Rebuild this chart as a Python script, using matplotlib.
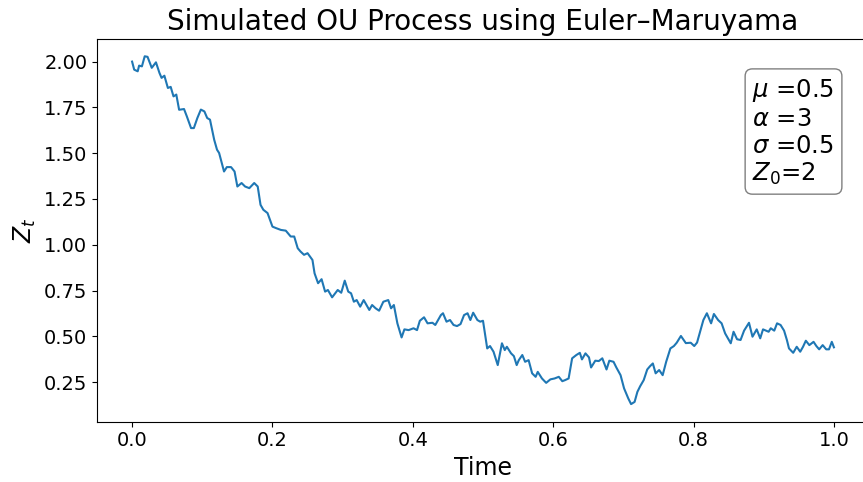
import matplotlib.pyplot as plt

# path
t = [0.000, 0.003, 0.008, 0.010, 0.014, 0.018, 0.022, 0.028, 0.034, 0.039,
     0.042, 0.046, 0.051, 0.055, 0.059, 0.063, 0.067, 0.074, 0.078, 0.084,
     0.088, 0.093, 0.098, 0.103, 0.107, 0.111, 0.117, 0.121, 0.124, 0.131,
     0.135, 0.141, 0.146, 0.150, 0.156, 0.161, 0.167, 0.174, 0.179, 0.183,
     0.187, 0.193, 0.200, 0.205, 0.212, 0.219, 0.226, 0.231, 0.236, 0.240,
     0.245, 0.250, 0.257, 0.260, 0.265, 0.270, 0.275, 0.279, 0.285, 0.293,
     0.298, 0.303, 0.308, 0.312, 0.316, 0.320, 0.325, 0.330, 0.338, 0.342,
     0.347, 0.352, 0.358, 0.365, 0.369, 0.373, 0.378, 0.384, 0.388, 0.394,
     0.401, 0.406, 0.410, 0.416, 0.421, 0.428, 0.432, 0.440, 0.443, 0.448,
     0.453, 0.458, 0.463, 0.468, 0.473, 0.478, 0.482, 0.486, 0.492, 0.496,
     0.500, 0.506, 0.510, 0.515, 0.521, 0.527, 0.531, 0.534, 0.540, 0.544,
     0.548, 0.551, 0.556, 0.560, 0.565, 0.570, 0.575, 0.578, 0.584, 0.590,
     0.596, 0.602, 0.608, 0.613, 0.617, 0.622, 0.627, 0.633, 0.638, 0.641,
     0.646, 0.651, 0.654, 0.660, 0.665, 0.670, 0.676, 0.680, 0.686, 0.690,
     0.696, 0.701, 0.707, 0.711, 0.716, 0.720, 0.724, 0.729, 0.734, 0.738,
     0.742, 0.746, 0.751, 0.756, 0.761, 0.767, 0.772, 0.776, 0.782, 0.789,
     0.796, 0.801, 0.805, 0.809, 0.814, 0.819, 0.825, 0.829, 0.835, 0.840,
     0.845, 0.853, 0.857, 0.862, 0.867, 0.872, 0.879, 0.884, 0.890, 0.895,
     0.899, 0.907, 0.910, 0.915, 0.919, 0.924, 0.929, 0.933, 0.936, 0.942,
     0.947, 0.952, 0.956, 0.960, 0.965, 0.971, 0.975, 0.979, 0.984, 0.989,
     0.993, 0.997, 1.000]
z = [2.000, 1.956, 1.947, 1.978, 1.974, 2.029, 2.026, 1.966, 1.996, 1.938,
     1.911, 1.923, 1.856, 1.862, 1.810, 1.820, 1.737, 1.741, 1.701, 1.637,
     1.637, 1.692, 1.738, 1.728, 1.692, 1.683, 1.573, 1.519, 1.501, 1.400,
     1.424, 1.424, 1.400, 1.318, 1.337, 1.318, 1.309, 1.337, 1.318, 1.218,
     1.191, 1.173, 1.099, 1.091, 1.081, 1.077, 1.045, 1.045, 0.981, 0.963,
     0.945, 0.954, 0.917, 0.844, 0.790, 0.812, 0.744, 0.753, 0.713, 0.753,
     0.738, 0.804, 0.744, 0.735, 0.689, 0.698, 0.662, 0.698, 0.644, 0.671,
     0.653, 0.640, 0.689, 0.698, 0.653, 0.671, 0.571, 0.494, 0.538, 0.534,
     0.544, 0.534, 0.585, 0.604, 0.571, 0.574, 0.562, 0.616, 0.626, 0.580,
     0.589, 0.562, 0.556, 0.567, 0.616, 0.626, 0.589, 0.629, 0.589, 0.580,
     0.585, 0.434, 0.447, 0.416, 0.343, 0.462, 0.425, 0.443, 0.407, 0.392,
     0.343, 0.370, 0.398, 0.361, 0.370, 0.298, 0.279, 0.306, 0.270, 0.246,
     0.265, 0.270, 0.279, 0.255, 0.261, 0.270, 0.380, 0.398, 0.410, 0.374,
     0.407, 0.385, 0.330, 0.367, 0.365, 0.380, 0.319, 0.367, 0.361, 0.330,
     0.288, 0.216, 0.161, 0.130, 0.142, 0.197, 0.228, 0.261, 0.319, 0.337,
     0.352, 0.298, 0.316, 0.288, 0.361, 0.434, 0.447, 0.465, 0.502, 0.463,
     0.465, 0.447, 0.466, 0.520, 0.589, 0.626, 0.571, 0.622, 0.589, 0.571,
     0.516, 0.462, 0.525, 0.484, 0.480, 0.531, 0.574, 0.498, 0.538, 0.489,
     0.538, 0.525, 0.544, 0.531, 0.571, 0.562, 0.531, 0.480, 0.434, 0.410,
     0.443, 0.416, 0.443, 0.476, 0.452, 0.470, 0.447, 0.429, 0.452, 0.429,
     0.429, 0.470, 0.440]

params = '$\\mu$ =0.5\n$\\alpha$ =3\n$\\sigma$ =0.5\n$Z_0$=2'

fig = plt.figure(figsize=(8.63, 4.82), dpi=100)
ax = fig.add_axes([97 / 863, 60.5 / 482, 772 / 863, 382.8 / 482])
ax.plot(t, z, color='tab:blue', linewidth=1.5)
ax.set_xlim(-0.05, 1.05)
ax.set_ylim(0.035, 2.125)
ax.set_title('Simulated OU Process using Euler\u2013Maruyama', fontsize=20)
ax.set_xlabel('Time', fontsize=17)
ax.set_ylabel('$Z_t$', fontsize=17)
ax.tick_params(labelsize=14)
ax.text(0.849, 0.90, params, transform=ax.transAxes, fontsize=17.5, va='top',
        linespacing=1.15,
        bbox=dict(boxstyle='round', facecolor='white', alpha=0.5))

plt.savefig('out.png', dpi=100)
